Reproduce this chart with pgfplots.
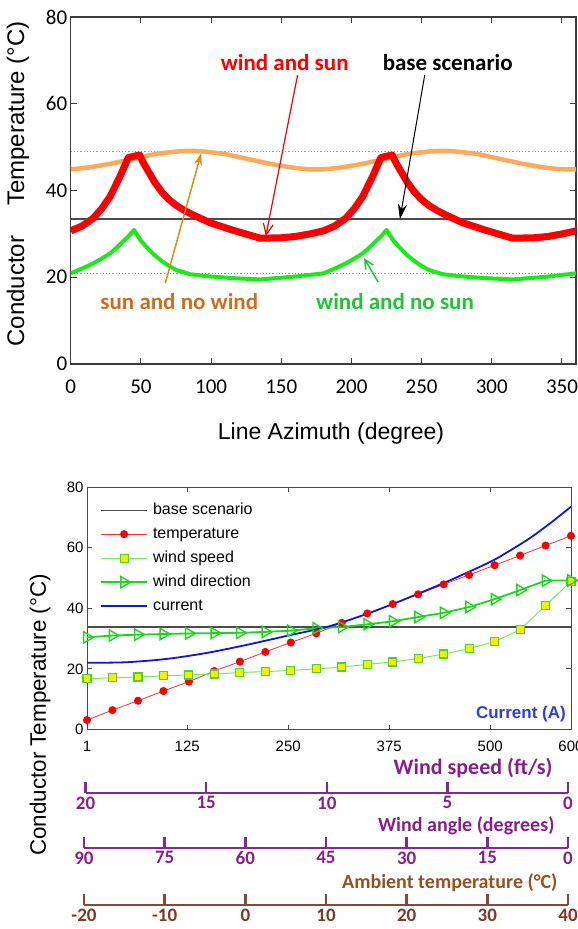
\documentclass[border=0pt]{standalone}
\usepackage{pgfplots}
\pgfplotsset{compat=1.18}
\usepackage{pgfplotstable}
\usepackage{fontspec}
\setmainfont{Liberation Sans}
\newfontfamily\carl{Carlito}
\usetikzlibrary{arrows.meta}
\newcommand\fs[1]{\fontsize{#1}{#1}\selectfont}
\definecolor{redc}{RGB}{250,0,0}
\definecolor{orangec}{RGB}{255,170,90}
\definecolor{greenc}{RGB}{25,235,25}
\definecolor{axgray}{RGB}{60,60,60}
\definecolor{basegray}{RGB}{75,75,75}
\definecolor{dotgray}{RGB}{150,150,150}
\definecolor{sunwind}{RGB}{205,110,30}
\definecolor{arrorange}{RGB}{225,135,20}
\definecolor{windnosun}{RGB}{35,195,55}
\definecolor{tempred}{RGB}{240,50,50}
\definecolor{wsline}{RGB}{120,230,100}
\definecolor{wsedge}{RGB}{80,210,40}
\definecolor{wsfill}{RGB}{240,240,0}
\definecolor{wdgreen}{RGB}{25,215,25}
\definecolor{curblue}{RGB}{20,20,215}
\definecolor{curtext}{RGB}{50,60,215}
\definecolor{purp}{RGB}{135,30,140}
\definecolor{purpline}{RGB}{130,40,145}
\definecolor{browntext}{RGB}{150,80,30}
\definecolor{brownline}{RGB}{140,70,55}
\definecolor{browntick}{RGB}{125,55,40}

\pgfplotstableread{
x      temp  speed  dir
1      3.1   16.7   30.4
32.5   6.4   17.1   31.0
64.1   9.5   17.3   31.3
95.6   12.7  17.7   31.5
127.1  15.8  18.0   31.7
158.6  19.3  18.3   31.8
190.2  22.4  18.8   31.9
221.7  25.6  19.1   32.2
253.2  28.7  19.5   32.6
284.7  31.7  20.0   33.4
316.3  35.2  20.6   33.8
347.8  38.3  21.5   34.7
379.3  41.4  22.3   35.7
410.8  44.6  23.4   37.1
442.4  47.9  24.9   38.5
473.9  51.0  26.7   40.4
505.4  54.2  29.0   43.0
537.0  57.4  32.9   46.0
568.5  60.7  40.9   49.1
600    63.9  48.8   49.2
}\bottomdata

\begin{document}
\begin{tikzpicture}
\useasboundingbox (0pt,0pt) rectangle (578pt,-929pt);

% ---------------- top chart ----------------
\begin{axis}[
  at={(70.8pt,-364pt)}, anchor=south west, scale only axis,
  width=505.2pt, height=347pt,
  xmin=0, xmax=360, ymin=0, ymax=80,
  xtick={0,50,...,350}, ytick={0,20,...,80},
  tick align=inside, major tick length=6pt,
  axis line style={line width=1.3pt, color=axgray},
  every tick/.style={line width=1pt, color=axgray},
  ticklabel style={font=\carl\fs{21}},
  /pgf/number format/assume math mode=true,
  xticklabel style={yshift=-12pt},
]
\addplot[dotgray, dotted, line width=1.2pt] coordinates {(0,49) (360,49)};
\addplot[dotgray, dotted, line width=1.2pt] coordinates {(0,20.9) (360,20.9)};
\addplot[basegray, line width=1.5pt] coordinates {(0,33.4) (360,33.4)};
\addplot[orangec, line width=4.5pt, smooth] coordinates {
(0,44.9) (10,45.2) (20,45.7) (30,46.3) (40,47.0) (50,47.7) (60,48.4) (70,48.8) (80,49.1) (90,49.1)
(100,48.8) (110,48.4) (120,47.7) (130,47.0) (140,46.3) (150,45.7) (160,45.2) (170,44.9) (180,44.9)
(190,45.2) (200,45.7) (210,46.3) (220,47.0) (230,47.7) (240,48.4) (250,48.8) (260,49.1) (270,49.1)
(280,48.8) (290,48.4) (300,47.7) (310,47.0) (320,46.3) (330,45.7) (340,45.2) (350,44.9) (360,44.9)};
\addplot[greenc, line width=4pt, line join=round] coordinates {
(0,20.9) (8,22.0) (16,23.2) (22,24.3) (28,25.5) (33,26.9) (37,28.2) (41,29.4) (45,30.9)
(50,28.4) (55,26.6) (60,25.0) (65,23.7) (70,22.6) (75,21.7) (85,20.7) (99,20.2) (115,19.8) (135,19.5)
(158,20.1) (180,20.9) (188,22.0) (196,23.2) (202,24.3) (208,25.5) (213,26.9) (217,28.2) (221,29.4) (225,30.9)
(230,28.4) (235,26.6) (240,25.0) (245,23.7) (250,22.6) (255,21.7) (265,20.7) (279,20.2) (295,19.8) (315,19.5)
(338,20.1) (360,20.9)};
\addplot[redc, line width=7pt, line join=round] coordinates {
(0,30.7) (8,31.8) (16,33.6) (22,35.8) (28,38.6) (35,43.2) (41,47.6) (49,48.2) (52,46.2) (56,44.0)
(60,41.8) (65,39.6) (70,37.9) (75,36.6) (81,35.4) (87,34.4) (99,32.6) (115,30.9) (135,29.0)
(150,29.1) (160,29.4) (172,30.1) (180,30.7)
(188,31.8) (196,33.6) (202,35.8) (208,38.6) (215,43.2) (221,47.6) (229,48.2) (232,46.2) (236,44.0)
(240,41.8) (245,39.6) (250,37.9) (255,36.6) (261,35.4) (267,34.4) (279,32.6) (295,30.9) (315,29.0)
(330,29.1) (340,29.4) (352,30.1) (360,30.7)};
% annotations
\draw[redc, line width=1.2pt, -{Straight Barb[length=11pt,width=10pt]}] (axis cs:161.6,66.6) -- (axis cs:139,29.5);
\draw[black, line width=1pt, -{Stealth[length=15pt,width=9pt]}] (axis cs:252.2,66.6) -- (axis cs:234.5,33.4);
\draw[arrorange, line width=1.5pt, -{Stealth[length=12pt,width=8pt]}] (axis cs:67.4,18.7) -- (axis cs:92.9,48.6);
\draw[windnosun, line width=1.5pt, -{Straight Barb[length=9pt,width=9pt]}] (axis cs:219,18.9) -- (axis cs:209,24.4);
\node[font=\carl\bfseries\fs{23}, text=redc] at (axis cs:152.4,69.4) {wind and sun};
\node[font=\carl\bfseries\fs{23}, text=black] at (axis cs:268.6,69.6) {base scenario};
\node[font=\carl\bfseries\fs{23}, text=sunwind] at (axis cs:77.3,14.5) {sun and no wind};
\node[font=\carl\bfseries\fs{23}, text=windnosun] at (axis cs:231,14.5) {wind and no sun};
\end{axis}
\node[rotate=90, font=\fs{24}] at (18pt,-184pt) {Conductor\hspace{1.25em}Temperature (°C)};
\node[font=\fs{23}] at (331pt,-434pt) {Line Azimuth (degree)};

% ---------------- bottom chart ----------------
\begin{axis}[
  at={(87pt,-729.5pt)}, anchor=south west, scale only axis,
  width=484pt, height=242.5pt,
  xmin=1, xmax=600, ymin=0, ymax=80,
  xtick={1,125,250,375,500,600}, ytick={0,20,...,80},
  tick align=inside, major tick length=5pt,
  axis line style={line width=0.9pt, color=basegray},
  every tick/.style={line width=0.8pt, color=basegray},
  ticklabel style={font=\fs{15}},
  /pgf/number format/assume math mode=true,
  xticklabel style={yshift=-8pt},
  legend image code/.code={\draw[mark repeat=2,mark phase=2,#1] plot coordinates {(0pt,0pt) (23pt,0pt) (46pt,0pt)};},
  legend style={at={(rel axis cs:0,1)}, anchor=north west, xshift=10pt, yshift=-11pt,
    draw=none, fill=none, font=\fs{16}, row sep=4pt, column sep=3pt,
    nodes={inner sep=2pt, text height=12pt, text depth=4pt}},
  legend cell align=left,
]
\addplot[basegray, line width=1.2pt] coordinates {(1,33.8) (600,33.8)};
\addlegendentry{base scenario}
\addplot[tempred, line width=0.8pt, mark=*, mark size=3.6pt, mark options={fill=redc, draw=redc}] table[x=x, y=temp] {\bottomdata};
\addlegendentry{temperature}
\addplot[wsline, line width=1pt, mark=square*, mark size=4pt, mark options={fill=wsfill, draw=wsedge, line width=1.2pt}] table[x=x, y=speed] {\bottomdata};
\addlegendentry{wind speed}
\addplot[wdgreen, line width=1.8pt, mark=triangle, mark size=6.5pt, mark options={rotate=-90, line width=1.4pt}] table[x=x, y=dir] {\bottomdata};
\addlegendentry{wind direction}
\addplot[curblue, line width=1.8pt, smooth] coordinates {
(1,22.0) (50,22.2) (100,23.3) (150,25.3) (200,28.0) (250,31.0) (300,34.0) (350,38.4)
(400,43.6) (450,49.2) (500,55.3) (525,59.1) (550,63.3) (575,68.2) (600,73.5)};
\addlegendentry{current}
\node[font=\bfseries\fs{17}, text=curtext] at (axis cs:538,5.1) {Current (A)};
\end{axis}
\node[rotate=90, font=\fs{22.4}] at (40pt,-715pt) {Conductor Temperature (°C)};

% ---------------- secondary scales ----------------
\begin{axis}[
  at={(85.6pt,-793pt)}, anchor=south west, scale only axis,
  width=482.4pt, height=20pt,
  xmin=0, xmax=20, x dir=reverse, ymin=0, ymax=1,
  hide y axis, axis x line*=bottom,
  x axis line style={-, line width=2.5pt, color=purpline},
  xtick={0,5,10,15,20}, tick align=inside, major tick length=11pt,
  x tick style={line width=2.5pt, color=purpline},
  xticklabel style={font=\carl\bfseries\fs{19}, text=purp},
  /pgf/number format/assume math mode=true,
]
\end{axis}
\begin{axis}[
  at={(84pt,-848pt)}, anchor=south west, scale only axis,
  width=484pt, height=20pt,
  xmin=0, xmax=90, x dir=reverse, ymin=0, ymax=1,
  hide y axis, axis x line*=bottom,
  x axis line style={-, line width=2.5pt, color=purpline},
  xtick={0,15,...,90}, tick align=inside, major tick length=11pt,
  x tick style={line width=2.5pt, color=purpline},
  xticklabel style={font=\carl\bfseries\fs{19}, text=purp},
  /pgf/number format/assume math mode=true,
]
\end{axis}
\begin{axis}[
  at={(84pt,-905pt)}, anchor=south west, scale only axis,
  width=484pt, height=20pt,
  xmin=-20, xmax=40, ymin=0, ymax=1,
  hide y axis, axis x line*=bottom,
  x axis line style={-, line width=2.5pt, color=brownline},
  xtick={-20,-10,...,40}, tick align=inside, major tick length=11pt,
  x tick style={line width=2.5pt, color=brownline},
  xticklabel style={font=\carl\bfseries\fs{19}, text=browntick},
  /pgf/number format/assume math mode=true,
]
\end{axis}
\node[anchor=east, font=\carl\bfseries\fs{22}, text=purp] at (556pt,-768pt) {Wind speed (ft/s)};
\node[anchor=east, font=\carl\bfseries\fs{20}, text=purp] at (558pt,-826pt) {Wind angle (degrees)};
\node[anchor=east, font=\carl\bfseries\fs{20}, text=browntext] at (561pt,-883pt) {Ambient temperature (°C)};
\end{tikzpicture}
\end{document}
